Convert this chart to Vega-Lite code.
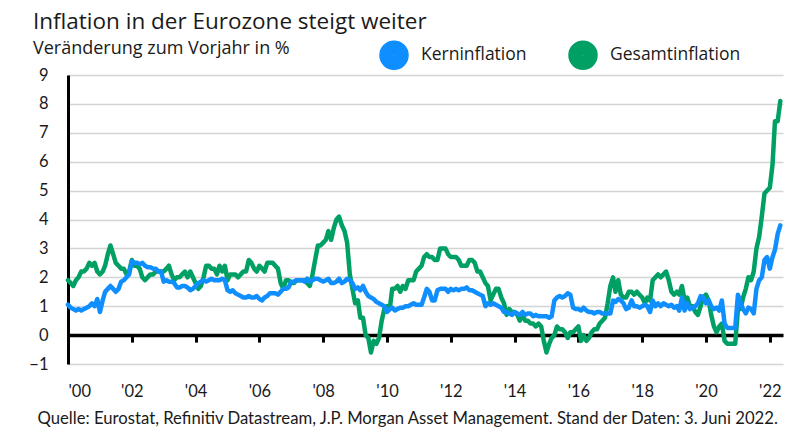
{
"$schema": "https://vega.github.io/schema/vega-lite/v6.json",
"width": 715, "height": 289,
"autosize": {"type": "none"},
"padding": {"left": 68, "top": 75, "right": 11, "bottom": 68},
"background": "white",
"title": {"text": "Inflation in der Eurozone steigt weiter", "subtitle": "Veränderung zum Vorjahr in %", "anchor": "start", "frame": "group", "dx": -35, "dy": 30, "offset": 12, "font": "Open Sans", "fontSize": 22.5, "fontWeight": "normal", "color": "#1a1a1a", "subtitleFont": "Open Sans", "subtitleFontSize": 18, "subtitleColor": "#1a1a1a", "subtitlePadding": 7},
"config": {"view": {"stroke": null}},
"datasets": {"infl": [
{"d":"2000-01-01","k":1.05,"g":1.9},{"d":"2000-02-01","k":0.95,"g":1.8},{"d":"2000-03-01","k":0.9,"g":1.7},{"d":"2000-04-01","k":0.85,"g":1.9},{"d":"2000-05-01","k":0.9,"g":2.0},{"d":"2000-06-01","k":0.85,"g":2.2},{"d":"2000-07-01","k":0.9,"g":2.2},{"d":"2000-08-01","k":0.95,"g":2.3},{"d":"2000-09-01","k":1.0,"g":2.5},{"d":"2000-10-01","k":1.1,"g":2.4},{"d":"2000-11-01","k":1.0,"g":2.5},{"d":"2000-12-01","k":1.25,"g":2.2},
{"d":"2001-01-01","k":0.8,"g":2.1},{"d":"2001-02-01","k":1.2,"g":2.2},{"d":"2001-03-01","k":1.5,"g":2.4},{"d":"2001-04-01","k":1.6,"g":2.8},{"d":"2001-05-01","k":1.7,"g":3.1},{"d":"2001-06-01","k":1.6,"g":2.8},{"d":"2001-07-01","k":1.5,"g":2.5},{"d":"2001-08-01","k":1.6,"g":2.4},{"d":"2001-09-01","k":1.85,"g":2.3},{"d":"2001-10-01","k":1.9,"g":2.3},{"d":"2001-11-01","k":2.0,"g":2.1},{"d":"2001-12-01","k":2.1,"g":2.2},
{"d":"2002-01-01","k":2.55,"g":2.6},{"d":"2002-02-01","k":2.5,"g":2.4},{"d":"2002-03-01","k":2.5,"g":2.4},{"d":"2002-04-01","k":2.45,"g":2.3},{"d":"2002-05-01","k":2.5,"g":2.0},{"d":"2002-06-01","k":2.4,"g":1.9},{"d":"2002-07-01","k":2.35,"g":2.0},{"d":"2002-08-01","k":2.35,"g":2.1},{"d":"2002-09-01","k":2.3,"g":2.1},{"d":"2002-10-01","k":2.3,"g":2.2},{"d":"2002-11-01","k":2.2,"g":2.2},{"d":"2002-12-01","k":2.2,"g":2.2},
{"d":"2003-01-01","k":1.85,"g":2.2},{"d":"2003-02-01","k":1.9,"g":2.3},{"d":"2003-03-01","k":1.85,"g":2.4},{"d":"2003-04-01","k":1.85,"g":2.1},{"d":"2003-05-01","k":1.8,"g":1.9},{"d":"2003-06-01","k":1.65,"g":2.0},{"d":"2003-07-01","k":1.65,"g":2.0},{"d":"2003-08-01","k":1.7,"g":2.1},{"d":"2003-09-01","k":1.7,"g":2.2},{"d":"2003-10-01","k":1.65,"g":2.0},{"d":"2003-11-01","k":1.55,"g":2.2},{"d":"2003-12-01","k":1.6,"g":2.0},
{"d":"2004-01-01","k":1.7,"g":1.8},{"d":"2004-02-01","k":1.8,"g":1.6},{"d":"2004-03-01","k":1.85,"g":1.7},{"d":"2004-04-01","k":1.9,"g":2.0},{"d":"2004-05-01","k":1.85,"g":2.4},{"d":"2004-06-01","k":1.9,"g":2.4},{"d":"2004-07-01","k":1.95,"g":2.3},{"d":"2004-08-01","k":1.9,"g":2.3},{"d":"2004-09-01","k":1.9,"g":2.1},{"d":"2004-10-01","k":1.9,"g":2.4},{"d":"2004-11-01","k":1.95,"g":2.2},{"d":"2004-12-01","k":1.9,"g":2.4},
{"d":"2005-01-01","k":1.55,"g":1.9},{"d":"2005-02-01","k":1.5,"g":2.1},{"d":"2005-03-01","k":1.55,"g":2.1},{"d":"2005-04-01","k":1.45,"g":2.1},{"d":"2005-05-01","k":1.4,"g":2.0},{"d":"2005-06-01","k":1.35,"g":2.1},{"d":"2005-07-01","k":1.3,"g":2.2},{"d":"2005-08-01","k":1.3,"g":2.2},{"d":"2005-09-01","k":1.35,"g":2.6},{"d":"2005-10-01","k":1.3,"g":2.5},{"d":"2005-11-01","k":1.3,"g":2.3},{"d":"2005-12-01","k":1.35,"g":2.2},
{"d":"2006-01-01","k":1.25,"g":2.4},{"d":"2006-02-01","k":1.2,"g":2.3},{"d":"2006-03-01","k":1.3,"g":2.2},{"d":"2006-04-01","k":1.35,"g":2.5},{"d":"2006-05-01","k":1.45,"g":2.5},{"d":"2006-06-01","k":1.45,"g":2.5},{"d":"2006-07-01","k":1.45,"g":2.4},{"d":"2006-08-01","k":1.4,"g":2.3},{"d":"2006-09-01","k":1.5,"g":1.8},{"d":"2006-10-01","k":1.6,"g":1.6},{"d":"2006-11-01","k":1.6,"g":1.9},{"d":"2006-12-01","k":1.65,"g":1.9},
{"d":"2007-01-01","k":1.85,"g":1.8},{"d":"2007-02-01","k":1.85,"g":1.8},{"d":"2007-03-01","k":1.9,"g":1.9},{"d":"2007-04-01","k":1.9,"g":1.9},{"d":"2007-05-01","k":1.9,"g":1.9},{"d":"2007-06-01","k":1.85,"g":1.9},{"d":"2007-07-01","k":1.95,"g":1.8},{"d":"2007-08-01","k":1.85,"g":1.7},{"d":"2007-09-01","k":1.9,"g":2.1},{"d":"2007-10-01","k":1.95,"g":2.6},{"d":"2007-11-01","k":1.95,"g":3.1},{"d":"2007-12-01","k":1.9,"g":3.1},
{"d":"2008-01-01","k":1.85,"g":3.2},{"d":"2008-02-01","k":1.9,"g":3.3},{"d":"2008-03-01","k":1.95,"g":3.6},{"d":"2008-04-01","k":1.8,"g":3.3},{"d":"2008-05-01","k":1.8,"g":3.7},{"d":"2008-06-01","k":1.85,"g":4.0},{"d":"2008-07-01","k":1.95,"g":4.1},{"d":"2008-08-01","k":1.8,"g":3.8},{"d":"2008-09-01","k":1.85,"g":3.6},{"d":"2008-10-01","k":1.95,"g":3.2},{"d":"2008-11-01","k":1.9,"g":2.1},{"d":"2008-12-01","k":1.8,"g":1.6},
{"d":"2009-01-01","k":1.6,"g":1.1},{"d":"2009-02-01","k":1.65,"g":1.2},{"d":"2009-03-01","k":1.55,"g":0.6},{"d":"2009-04-01","k":1.7,"g":0.6},{"d":"2009-05-01","k":1.5,"g":0.0},{"d":"2009-06-01","k":1.35,"g":-0.1},{"d":"2009-07-01","k":1.3,"g":-0.6},{"d":"2009-08-01","k":1.25,"g":-0.2},{"d":"2009-09-01","k":1.15,"g":-0.3},{"d":"2009-10-01","k":1.1,"g":-0.1},{"d":"2009-11-01","k":1.05,"g":0.5},{"d":"2009-12-01","k":1.0,"g":0.9},
{"d":"2010-01-01","k":0.8,"g":1.0},{"d":"2010-02-01","k":0.9,"g":0.9},{"d":"2010-03-01","k":0.95,"g":1.6},{"d":"2010-04-01","k":0.85,"g":1.6},{"d":"2010-05-01","k":0.9,"g":1.7},{"d":"2010-06-01","k":0.95,"g":1.5},{"d":"2010-07-01","k":0.95,"g":1.7},{"d":"2010-08-01","k":1.0,"g":1.6},{"d":"2010-09-01","k":1.0,"g":1.9},{"d":"2010-10-01","k":1.05,"g":1.9},{"d":"2010-11-01","k":1.1,"g":1.9},{"d":"2010-12-01","k":1.05,"g":2.2},
{"d":"2011-01-01","k":1.05,"g":2.3},{"d":"2011-02-01","k":1.05,"g":2.4},{"d":"2011-03-01","k":1.3,"g":2.7},{"d":"2011-04-01","k":1.6,"g":2.8},{"d":"2011-05-01","k":1.5,"g":2.7},{"d":"2011-06-01","k":1.2,"g":2.7},{"d":"2011-07-01","k":1.2,"g":2.6},{"d":"2011-08-01","k":1.55,"g":2.6},{"d":"2011-09-01","k":1.6,"g":3.0},{"d":"2011-10-01","k":1.6,"g":3.0},{"d":"2011-11-01","k":1.6,"g":3.0},{"d":"2011-12-01","k":1.5,"g":2.8},
{"d":"2012-01-01","k":1.6,"g":2.7},{"d":"2012-02-01","k":1.55,"g":2.7},{"d":"2012-03-01","k":1.6,"g":2.7},{"d":"2012-04-01","k":1.55,"g":2.6},{"d":"2012-05-01","k":1.6,"g":2.4},{"d":"2012-06-01","k":1.6,"g":2.4},{"d":"2012-07-01","k":1.65,"g":2.4},{"d":"2012-08-01","k":1.55,"g":2.6},{"d":"2012-09-01","k":1.55,"g":2.6},{"d":"2012-10-01","k":1.5,"g":2.5},{"d":"2012-11-01","k":1.45,"g":2.2},{"d":"2012-12-01","k":1.4,"g":2.2},
{"d":"2013-01-01","k":1.35,"g":2.0},{"d":"2013-02-01","k":1.0,"g":1.8},{"d":"2013-03-01","k":1.1,"g":1.7},{"d":"2013-04-01","k":1.05,"g":1.2},{"d":"2013-05-01","k":1.1,"g":1.4},{"d":"2013-06-01","k":1.05,"g":1.6},{"d":"2013-07-01","k":1.0,"g":1.6},{"d":"2013-08-01","k":0.95,"g":1.3},{"d":"2013-09-01","k":0.8,"g":1.1},{"d":"2013-10-01","k":0.8,"g":0.7},{"d":"2013-11-01","k":0.75,"g":0.9},{"d":"2013-12-01","k":0.7,"g":0.8},
{"d":"2014-01-01","k":0.8,"g":0.8},{"d":"2014-02-01","k":0.75,"g":0.7},{"d":"2014-03-01","k":0.7,"g":0.5},{"d":"2014-04-01","k":0.8,"g":0.7},{"d":"2014-05-01","k":0.7,"g":0.5},{"d":"2014-06-01","k":0.75,"g":0.5},{"d":"2014-07-01","k":0.75,"g":0.4},{"d":"2014-08-01","k":0.65,"g":0.4},{"d":"2014-09-01","k":0.7,"g":0.3},{"d":"2014-10-01","k":0.65,"g":0.4},{"d":"2014-11-01","k":0.65,"g":0.3},{"d":"2014-12-01","k":0.65,"g":-0.2},
{"d":"2015-01-01","k":0.65,"g":-0.6},{"d":"2015-02-01","k":0.6,"g":-0.3},{"d":"2015-03-01","k":0.65,"g":-0.1},{"d":"2015-04-01","k":1.2,"g":0.0},{"d":"2015-05-01","k":1.3,"g":0.3},{"d":"2015-06-01","k":1.35,"g":0.2},{"d":"2015-07-01","k":1.3,"g":0.2},{"d":"2015-08-01","k":1.35,"g":0.1},{"d":"2015-09-01","k":1.45,"g":-0.1},{"d":"2015-10-01","k":1.4,"g":0.1},{"d":"2015-11-01","k":0.95,"g":0.1},{"d":"2015-12-01","k":0.9,"g":0.2},
{"d":"2016-01-01","k":0.9,"g":0.3},{"d":"2016-02-01","k":0.85,"g":-0.2},{"d":"2016-03-01","k":0.95,"g":0.0},{"d":"2016-04-01","k":0.85,"g":-0.2},{"d":"2016-05-01","k":0.8,"g":-0.1},{"d":"2016-06-01","k":0.8,"g":0.1},{"d":"2016-07-01","k":0.75,"g":0.2},{"d":"2016-08-01","k":0.8,"g":0.2},{"d":"2016-09-01","k":0.8,"g":0.4},{"d":"2016-10-01","k":0.75,"g":0.5},{"d":"2016-11-01","k":0.75,"g":0.6},{"d":"2016-12-01","k":0.75,"g":1.1},
{"d":"2017-01-01","k":0.75,"g":1.7},{"d":"2017-02-01","k":1.2,"g":2.0},{"d":"2017-03-01","k":1.15,"g":1.5},{"d":"2017-04-01","k":1.25,"g":1.9},{"d":"2017-05-01","k":1.2,"g":1.4},{"d":"2017-06-01","k":1.1,"g":1.3},{"d":"2017-07-01","k":0.9,"g":1.3},{"d":"2017-08-01","k":0.95,"g":1.5},{"d":"2017-09-01","k":1.2,"g":1.5},{"d":"2017-10-01","k":1.0,"g":1.4},{"d":"2017-11-01","k":1.0,"g":1.5},{"d":"2017-12-01","k":0.95,"g":1.4},
{"d":"2018-01-01","k":1.0,"g":1.3},{"d":"2018-02-01","k":1.05,"g":1.1},{"d":"2018-03-01","k":1.0,"g":1.3},{"d":"2018-04-01","k":0.8,"g":1.2},{"d":"2018-05-01","k":1.2,"g":1.9},{"d":"2018-06-01","k":1.0,"g":2.0},{"d":"2018-07-01","k":1.1,"g":2.1},{"d":"2018-08-01","k":1.0,"g":2.0},{"d":"2018-09-01","k":1.1,"g":2.1},{"d":"2018-10-01","k":1.05,"g":2.2},{"d":"2018-11-01","k":1.0,"g":1.9},{"d":"2018-12-01","k":1.05,"g":1.5},
{"d":"2019-01-01","k":0.95,"g":1.4},{"d":"2019-02-01","k":1.0,"g":1.5},{"d":"2019-03-01","k":0.85,"g":1.4},{"d":"2019-04-01","k":1.3,"g":1.7},{"d":"2019-05-01","k":0.85,"g":1.2},{"d":"2019-06-01","k":1.1,"g":1.3},{"d":"2019-07-01","k":0.9,"g":1.0},{"d":"2019-08-01","k":0.95,"g":1.0},{"d":"2019-09-01","k":1.0,"g":0.8},{"d":"2019-10-01","k":1.1,"g":0.7},{"d":"2019-11-01","k":1.35,"g":1.0},{"d":"2019-12-01","k":1.3,"g":1.3},
{"d":"2020-01-01","k":1.1,"g":1.4},{"d":"2020-02-01","k":1.2,"g":1.2},{"d":"2020-03-01","k":1.0,"g":0.7},{"d":"2020-04-01","k":0.9,"g":0.3},{"d":"2020-05-01","k":0.95,"g":0.1},{"d":"2020-06-01","k":0.85,"g":0.3},{"d":"2020-07-01","k":1.2,"g":0.4},{"d":"2020-08-01","k":0.4,"g":-0.2},{"d":"2020-09-01","k":0.25,"g":-0.3},{"d":"2020-10-01","k":0.25,"g":-0.3},{"d":"2020-11-01","k":0.25,"g":-0.3},{"d":"2020-12-01","k":0.25,"g":-0.3},
{"d":"2021-01-01","k":1.4,"g":0.9},{"d":"2021-02-01","k":1.1,"g":0.9},{"d":"2021-03-01","k":0.9,"g":1.3},{"d":"2021-04-01","k":0.75,"g":1.6},{"d":"2021-05-01","k":0.95,"g":2.0},{"d":"2021-06-01","k":0.9,"g":1.9},{"d":"2021-07-01","k":0.75,"g":2.2},{"d":"2021-08-01","k":1.6,"g":3.0},{"d":"2021-09-01","k":1.9,"g":3.4},{"d":"2021-10-01","k":2.0,"g":4.1},{"d":"2021-11-01","k":2.6,"g":4.9},{"d":"2021-12-01","k":2.7,"g":5.0},
{"d":"2022-01-01","k":2.3,"g":5.1},{"d":"2022-02-01","k":2.7,"g":5.9},{"d":"2022-03-01","k":2.95,"g":7.4},{"d":"2022-04-01","k":3.5,"g":7.4},{"d":"2022-05-01","k":3.8,"g":8.1}
]},
"data": {"name": "infl"},
"encoding": {
  "x": {"field": "d", "type": "temporal",
    "scale": {"type": "utc", "domain": [{"year": 2000, "month": 1, "date": 1, "utc": true}, {"year": 2022, "month": 6, "date": 1, "utc": true}]},
    "axis": {"values": [{"year":2000,"utc":true},{"year":2002,"utc":true},{"year":2004,"utc":true},{"year":2006,"utc":true},{"year":2008,"utc":true},{"year":2010,"utc":true},{"year":2012,"utc":true},{"year":2014,"utc":true},{"year":2016,"utc":true},{"year":2018,"utc":true},{"year":2020,"utc":true},{"year":2022,"utc":true}],
      "format": "'%y", "offset": -28.9, "grid": false, "domainColor": "black", "domainWidth": 3.5, "tickColor": "black", "tickWidth": 3, "tickSize": 7, "labelPadding": 41, "labelFont": "Lato", "labelFontSize": 16.5, "labelColor": "#1a1a1a", "labelAngle": 0, "labelOverlap": false,
      "title": "Quelle: Eurostat, Refinitiv Datastream, J.P. Morgan Asset Management. Stand der Daten: 3. Juni 2022.", "titleX": -31, "titleY": 83, "titleAlign": "left", "titleAnchor": null, "titleBaseline": "middle", "titleFont": "Lato", "titleFontSize": 16.7, "titleFontWeight": "normal", "titleColor": "#1a1a1a"}},
  "color": {"scale": {"domain": ["Kerninflation", "Gesamtinflation"], "range": ["#0F8FFF", "#00A064"]},
    "legend": {"orient": "none", "legendX": 311, "legendY": -35, "direction": "horizontal", "title": null, "symbolType": "circle", "symbolSize": 225, "symbolStrokeWidth": 14.5, "symbolOpacity": 1, "labelFont": "Open Sans", "labelFontSize": 17.5, "labelColor": "#1a1a1a", "labelOffset": 12, "columnPadding": 19, "padding": 0}}
},
"layer": [
  {"mark": {"type": "line", "strokeWidth": 4.5, "strokeJoin": "round", "strokeCap": "round"},
   "encoding": {"y": {"field": "g", "type": "quantitative", "scale": {"domain": [-1, 9]},
      "axis": {"values": [-1,0,1,2,3,4,5,6,7,8,9], "title": null, "grid": true, "gridColor": "#D4D4D4", "gridWidth": 1.5, "domainColor": "black", "domainWidth": 3, "ticks": false, "labelPadding": 20, "labelFont": "Lato", "labelFontSize": 16.5, "labelColor": "#1a1a1a", "labelOverlap": false}},
     "color": {"datum": "Gesamtinflation", "type": "nominal"}}},
  {"mark": {"type": "line", "strokeWidth": 4.5, "strokeJoin": "round", "strokeCap": "round"},
   "encoding": {"y": {"field": "k", "type": "quantitative",
      "axis": {"values": [-1,0,1,2,3,4,5,6,7,8,9], "title": null, "grid": true, "gridColor": "#D4D4D4", "gridWidth": 1.5, "domainColor": "black", "domainWidth": 3, "ticks": false, "labelPadding": 20, "labelFont": "Lato", "labelFontSize": 16.5, "labelColor": "#1a1a1a", "labelOverlap": false}},
     "color": {"datum": "Kerninflation", "type": "nominal"}}}
]
}
